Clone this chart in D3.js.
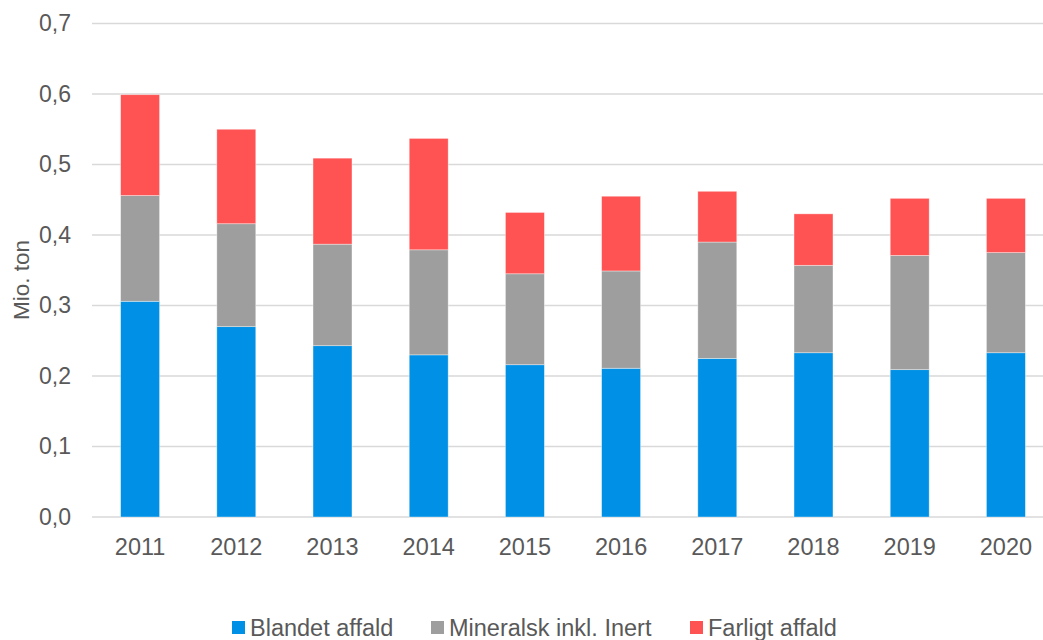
<!DOCTYPE html>
<html>
<head>
<meta charset="utf-8">
<script src="https://cdn.jsdelivr.net/npm/d3@7"></script>
<style>
  html, body { margin: 0; padding: 0; background: #ffffff; }
  svg { display: block; }
  text { font-family: "Liberation Sans", Arial, sans-serif; fill: #595959; }
</style>
</head>
<body>
<svg id="chart" width="1043" height="640"></svg>
<script>
const categories = ["2011","2012","2013","2014","2015","2016","2017","2018","2019","2020"];
const blandet   = [0.306, 0.270, 0.243, 0.230, 0.216, 0.211, 0.225, 0.233, 0.209, 0.233];
const mineralsk = [0.150, 0.146, 0.144, 0.149, 0.129, 0.138, 0.165, 0.124, 0.162, 0.142];
const farligt   = [0.143, 0.134, 0.122, 0.158, 0.087, 0.106, 0.072, 0.073, 0.081, 0.077];
const seriesNames = ["Blandet affald", "Mineralsk inkl. Inert", "Farligt affald"];
const seriesColors = ["#0091E6", "#9E9E9E", "#FF5252"];
const yTicks = [0, 0.1, 0.2, 0.3, 0.4, 0.5, 0.6, 0.7];
const yTickLabels = ["0,0","0,1","0,2","0,3","0,4","0,5","0,6","0,7"];
const yTitle = "Mio. ton";

const svg = d3.select("#chart");
const x = d3.scaleBand().domain(categories).range([92, 1054]).paddingInner(0.595).paddingOuter(0.2975);
const y = d3.scaleLinear().domain([0, 0.7]).range([517, 23.5]);

// gridlines
svg.append("g").selectAll("line").data(yTicks).join("line")
  .attr("x1", 92).attr("x2", 1054)
  .attr("y1", d => y(d)).attr("y2", d => y(d))
  .attr("stroke", "#D9D9D9").attr("stroke-width", 1.5);

// stacked data
const rows = categories.map((c, i) => ({cat: c, s0: blandet[i], s1: mineralsk[i], s2: farligt[i]}));
const stack = d3.stack().keys(["s0","s1","s2"])(rows);

svg.append("g").selectAll("g").data(stack).join("g")
  .attr("fill", (d, i) => seriesColors[i])
  .selectAll("rect").data(d => d).join("rect")
  .attr("x", d => x(d.data.cat))
  .attr("width", x.bandwidth())
  .attr("y", d => y(d[1]))
  .attr("height", d => y(d[0]) - y(d[1]))
  .attr("stroke", "#ffffff").attr("stroke-opacity", 0.5).attr("stroke-width", 0.75);

// y axis labels
const yAxis = d3.axisLeft(y).tickValues(yTicks).tickFormat((d, i) => yTickLabels[i]).tickSize(0).tickPadding(0);
const gy = svg.append("g").attr("transform", "translate(71,0)").call(yAxis);
gy.select(".domain").remove();
gy.selectAll("text").attr("font-size", 23).attr("fill", "#595959")
  .style("font-family", "'Liberation Sans', Arial, sans-serif");

// x axis labels
const xAxis = d3.axisBottom(x).tickSize(0).tickPadding(0);
const gx = svg.append("g").attr("transform", "translate(0,538)").call(xAxis);
gx.select(".domain").remove();
gx.selectAll("text").attr("font-size", 23.5).attr("fill", "#595959")
  .style("font-family", "'Liberation Sans', Arial, sans-serif");

// y title
svg.append("text")
  .attr("transform", "translate(29,280) rotate(-90)")
  .attr("text-anchor", "middle")
  .attr("font-size", 22.5)
  .text(yTitle);

// legend
const legendX = [232, 431, 690];
const lg = svg.append("g").selectAll("g").data(seriesNames).join("g")
  .attr("transform", (d, i) => `translate(${legendX[i]},621)`);
lg.append("rect").attr("width", 13).attr("height", 13).attr("fill", (d, i) => seriesColors[i]);
lg.append("text").attr("x", 18).attr("y", 15).attr("font-size", 23.5).text(d => d);
</script>
</body>
</html>
